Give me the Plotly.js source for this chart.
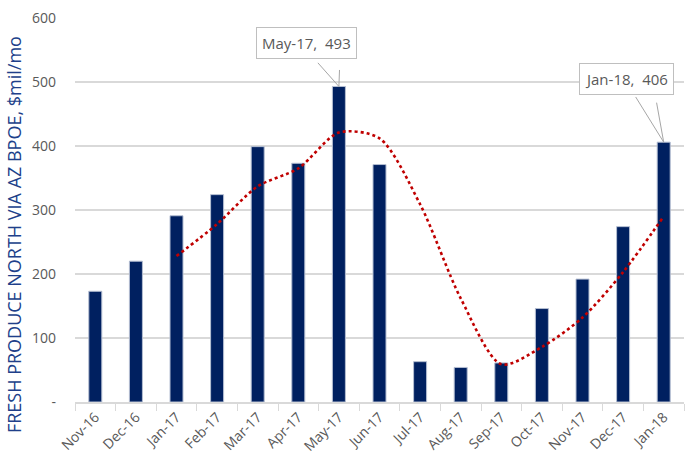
<!DOCTYPE html>
<html>
<head>
<meta charset="utf-8">
<script src="https://cdn.plot.ly/plotly-3.0.1.min.js"></script>
<style>html,body{margin:0;padding:0;background:#fff;}#chart{width:686px;height:465px;}</style>
</head>
<body>
<div id="chart"></div>
<script>
var months = ["Nov-16","Dec-16","Jan-17","Feb-17","Mar-17","Apr-17","May-17","Jun-17","Jul-17","Aug-17","Sep-17","Oct-17","Nov-17","Dec-17","Jan-18"];
var produce = [173, 220, 291, 324, 399, 373, 493, 371, 63, 54, 61, 146, 192, 274, 406];
var avgMonths = ["Jan-17","Feb-17","Mar-17","Apr-17","May-17","Jun-17","Jul-17","Aug-17","Sep-17","Oct-17","Nov-17","Dec-17","Jan-18"];
var movingAvg = [228, 278, 337, 365, 421, 412, 309, 162, 59, 86, 132, 203, 290];
var yTickVals = [0, 100, 200, 300, 400, 500, 600];
var yTickText = ["-", "100", "200", "300", "400", "500", "600"];
var yTitle = "FRESH PRODUCE NORTH VIA AZ BPOE, $mil/mo";

var FONT = "Open Sans, Noto Sans, sans-serif";

var traces = [
  {
    type: "bar", x: months, y: produce,
    marker: {color: "#002060", line: {color: "#b4bed2", width: 1}},
    hoverinfo: "x+y"
  },
  {
    type: "scatter", mode: "lines", x: avgMonths, y: movingAvg,
    line: {color: "#c00000", width: 2.6, dash: "dot", shape: "spline", smoothing: 0.8}
  }
];

function wedge(x, y, ax, ay) {
  return {x: x, y: y, xref: "x", yref: "y", text: " ", showarrow: true, arrowhead: 0,
          arrowwidth: 1, arrowcolor: "#a6a6a6", ax: ax, ay: ay, standoff: 0, startstandoff: 0};
}
function box(x, y, txt, ax, ay) {
  return {x: x, y: y, xref: "x", yref: "y", text: txt, showarrow: true, arrowcolor: "rgba(0,0,0,0)",
          arrowwidth: 0.1, ax: ax, ay: ay, bgcolor: "#ffffff", bordercolor: "#bfbfbf", borderwidth: 1,
          borderpad: 5, font: {family: FONT, size: 15, color: "#595959"}};
}

var annotations = [
  wedge(months[6], produce[6], -24, -27),
  wedge(months[6], produce[6], 1, -27),
  box(months[6], produce[6], "May-17,  493", -32, -43),
  wedge(months[14], produce[14], -31, -50),
  wedge(months[14], produce[14], -9, -50),
  box(months[14], produce[14], "Jan-18,  406", -37, -63),
  {xref: "paper", yref: "paper", x: -0.1, y: 0.435, xanchor: "center", yanchor: "middle",
   textangle: -90, showarrow: false, text: yTitle,
   font: {family: FONT, size: 18, color: "#203f8a"}}
];

var layout = {
  width: 686, height: 465,
  margin: {l: 75, r: 2, t: 18, b: 63},
  paper_bgcolor: "#ffffff", plot_bgcolor: "#ffffff",
  showlegend: false,
  bargap: 0.68,
  font: {family: FONT, color: "#595959", size: 13},
  xaxis: {
    type: "category",
    tickangle: -45,
    ticks: "outside", tickson: "boundaries", ticklen: 7, tickcolor: "#d9d9d9",
    showline: true, linecolor: "#d9d9d9", linewidth: 1.5,
    showgrid: false,
    tickfont: {family: FONT, size: 14, color: "#595959"}
  },
  yaxis: {
    range: [0, 600],
    tickvals: yTickVals, ticktext: yTickText,
    showgrid: true, gridcolor: "#d9d9d9", gridwidth: 1.5,
    zeroline: false, showline: false,
    ticks: "", ticklabelstandoff: 18,
    tickfont: {family: FONT, size: 14, color: "#595959"}
  },
  annotations: annotations
};

Plotly.newPlot("chart", traces, layout, {displayModeBar: false, staticPlot: true});
</script>
</body>
</html>
